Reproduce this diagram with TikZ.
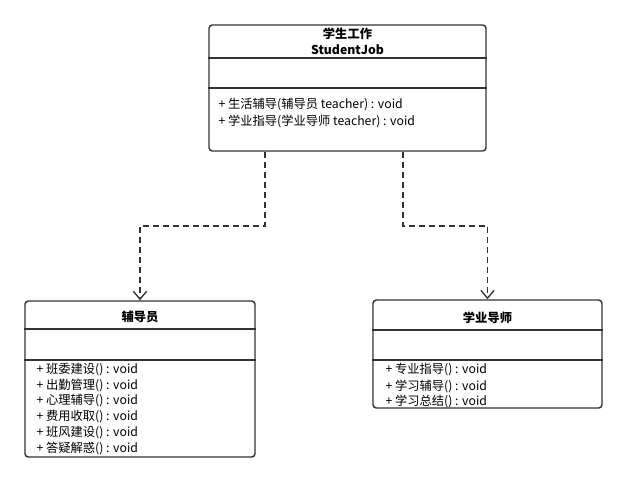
\documentclass[tikz,border=0pt]{standalone}
\usepackage{fontspec}
\setmainfont{Noto Sans CJK SC}
\usetikzlibrary{arrows.meta,calc}

\definecolor{umlgray}{RGB}{51,51,51}
\tikzset{every picture/.style={line width=0.75pt}}
\tikzset{
  classbox/.style={draw=umlgray,line width=1.1pt,rounded corners=2.5pt,inner sep=0pt},
  depend/.style={draw=umlgray,line width=1.2pt,dash pattern={on 4.5pt off 3pt},-{Straight Barb[length=6pt,width=10pt,line width=1pt]}},
  umltext/.style={text=black,inner sep=0pt,font=\fontsize{9.2pt}{12pt}\selectfont},
  umltitle/.style={umltext,font=\fontsize{9.2pt}{12pt}\selectfont\bfseries},
}

\begin{document}
\begin{tikzpicture}[x=0.75pt,y=0.75pt,yscale=-1,xscale=1]
	\useasboundingbox (0,0) rectangle (628,483);

	%Shape: Class StudentJob
	\node [classbox,minimum width=207.75pt,minimum height=94.5pt] (job) at (347.5,88) {};
	\draw [umlgray,line width=1.1pt] (job.west |- 0,58) -- (job.east |- 0,58) ;
	\draw [umlgray,line width=1.1pt] (job.west |- 0,88) -- (job.east |- 0,88) ;
	%Shape: Class Fudaoyuan
	\node [classbox,minimum width=172.5pt,minimum height=117pt] (tutor) at (140,379) {};
	\draw [umlgray,line width=1.1pt] (tutor.west |- 0,329) -- (tutor.east |- 0,329) ;
	\draw [umlgray,line width=1.1pt] (tutor.west |- 0,360) -- (tutor.east |- 0,360) ;
	%Shape: Class Xueye daoshi
	\node [classbox,minimum width=171.75pt,minimum height=81pt] (mentor) at (487.5,354) {};
	\draw [umlgray,line width=1.1pt] (mentor.west |- 0,330) -- (mentor.east |- 0,330) ;
	\draw [umlgray,line width=1.1pt] (mentor.west |- 0,360) -- (mentor.east |- 0,360) ;

	%Straight Lines: dependencies
	\draw [depend] ($(job.south)+(-82.5,0)$) -- ++(0,74) -| (tutor.north) ;
	\draw [depend] ($(job.south)+(55.5,0)$) -- ++(0,74) -| (mentor.north) ;

	% Text Node
	\node [umltitle] (jobcn) at (347.5,34) {学生工作};
	% Text Node
	\node [umltitle] (joben) at (347.5,50) {StudentJob};
	% Text Node
	\node [umltext,anchor=west] (jobm1) at (218,105) {+\ 生活辅导(辅导员 teacher) : void};
	% Text Node
	\node [umltext,anchor=west] (jobm2) at (218,121) {+\ 学业指导(学业导师 teacher) : void};

	% Text Node
	\node [umltitle] (tutorname) at (140,317) {辅导员};
	% Text Node
	\node [umltext,anchor=west] (tutorm1) at (36,370) {+\ 班委建设() : void};
	% Text Node
	\node [umltext,anchor=west] (tutorm2) at (36,386) {+\ 出勤管理() : void};
	% Text Node
	\node [umltext,anchor=west] (tutorm3) at (36,401) {+\ 心理辅导() : void};
	% Text Node
	\node [umltext,anchor=west] (tutorm4) at (36,417) {+\ 费用收取() : void};
	% Text Node
	\node [umltext,anchor=west] (tutorm5) at (36,433) {+\ 班风建设() : void};
	% Text Node
	\node [umltext,anchor=west] (tutorm6) at (36,449) {+\ 答疑解惑() : void};

	% Text Node
	\node [umltitle] (mentorname) at (487.5,318) {学业导师};
	% Text Node
	\node [umltext,anchor=west] (mentorm1) at (385,370) {+\ 专业指导() : void};
	% Text Node
	\node [umltext,anchor=west] (mentorm2) at (385,386) {+\ 学习辅导() : void};
	% Text Node
	\node [umltext,anchor=west] (mentorm3) at (385,401) {+\ 学习总结() : void};

\end{tikzpicture}
\end{document}
